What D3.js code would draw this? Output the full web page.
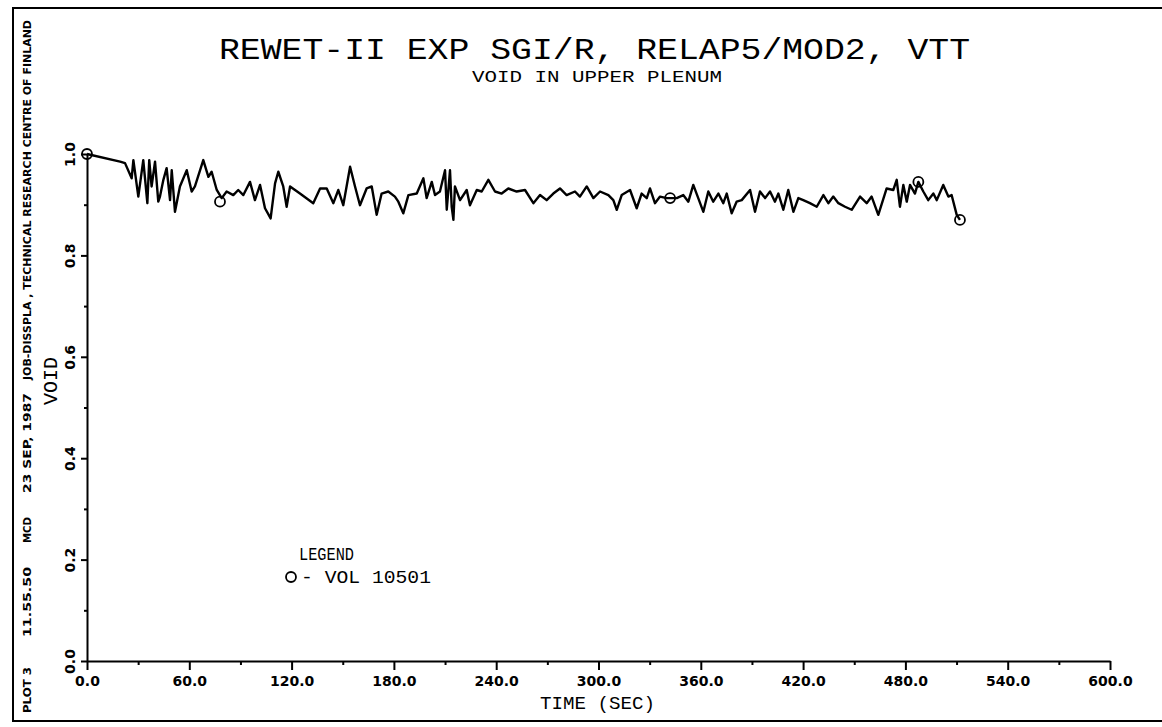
<!DOCTYPE html>
<html>
<head>
<meta charset="utf-8">
<script src="https://cdn.jsdelivr.net/npm/d3@7"></script>
<style>
  body { margin: 0; background: #fff; }
  svg { display: block; }
</style>
</head>
<body>
<div id="plot"></div>
<script>
// data (time in s, void fraction)
const timeSec = [
  0, 19.4, 22.3, 26.2, 27.2, 30.1, 33.0, 35.4, 36.5, 37.9, 39.9, 41.8, 42.8, 44.8, 46.7, 48.7, 49.7, 51.6,
  54.5, 58.5, 61.4, 63.3, 68.2, 71.2, 73.1, 76.1, 79.0, 81.9, 85.8, 88.7, 91.7, 95.6, 98.5, 101.5, 104.4,
  107.7, 110.3, 112.2, 115.1, 117.1, 119.1, 124.9, 132.7, 136.7, 140.6, 144.5, 147.4, 150.3, 154.3, 157.2,
  160.1, 164.0, 167.0, 169.9, 172.8, 176.7, 180.6, 182.6, 185.5, 188.5, 193.4, 197.3, 199.2, 202.2, 204.1,
  207.0, 210.0, 211.0, 212.9, 213.9, 214.9, 215.8, 218.8, 222.7, 224.6, 228.6, 231.5, 235.4, 239.3, 243.2,
  247.1, 252.0, 256.9, 261.8, 265.7, 269.6, 273.5, 277.4, 281.3, 286.2, 289.1, 293.1, 297.0, 300.9, 305.8,
  308.7, 310.7, 313.6, 318.5, 322.4, 325.3, 328.3, 330.2, 333.1, 336.1, 340.0, 345.9, 349.7, 352.7, 355.6,
  358.5, 361.5, 364.4, 367.3, 370.3, 373.2, 375.2, 378.1, 381.0, 384.0, 388.9, 391.8, 394.7, 397.7, 400.6,
  403.5, 405.5, 408.4, 411.3, 414.3, 417.2, 420.1, 424.0, 428.0, 431.9, 434.8, 437.7, 440.7, 444.6, 448.5,
  453.4, 457.3, 460.2, 464.1, 469.0, 472.9, 474.9, 476.8, 478.8, 480.8, 482.7, 485.6, 487.6, 490.5, 493.4,
  496.4, 498.4, 502.2, 505.2, 507.1, 510.1, 512.0
];
const voidFrac = [
  1.000, 0.985, 0.982, 0.952, 0.988, 0.916, 0.988, 0.903, 0.988, 0.936, 0.985, 0.906, 0.916, 0.949, 0.972, 0.909, 0.968, 0.886,
  0.936, 0.968, 0.926, 0.936, 0.988, 0.955, 0.965, 0.929, 0.913, 0.926, 0.919, 0.929, 0.919, 0.945, 0.909, 0.939, 0.893,
  0.873, 0.942, 0.965, 0.936, 0.896, 0.936, 0.922, 0.903, 0.932, 0.932, 0.903, 0.929, 0.899, 0.975, 0.936,
  0.899, 0.932, 0.936, 0.880, 0.922, 0.926, 0.916, 0.906, 0.883, 0.919, 0.922, 0.952, 0.913, 0.945, 0.919,
  0.926, 0.968, 0.890, 0.968, 0.896, 0.870, 0.936, 0.909, 0.929, 0.899, 0.929, 0.926, 0.949, 0.926, 0.922,
  0.932, 0.926, 0.929, 0.903, 0.919, 0.909, 0.922, 0.932, 0.919, 0.926, 0.916, 0.936, 0.913, 0.926, 0.919,
  0.909, 0.890, 0.919, 0.929, 0.893, 0.922, 0.913, 0.932, 0.903, 0.916, 0.913, 0.913, 0.919, 0.906, 0.939,
  0.913, 0.886, 0.926, 0.906, 0.922, 0.903, 0.922, 0.883, 0.906, 0.909, 0.929, 0.886, 0.926, 0.913, 0.926,
  0.906, 0.922, 0.890, 0.929, 0.886, 0.913, 0.909, 0.903, 0.896, 0.919, 0.903, 0.916, 0.903, 0.896, 0.890,
  0.916, 0.903, 0.916, 0.880, 0.932, 0.929, 0.949, 0.896, 0.939, 0.906, 0.939, 0.922, 0.945, 0.926, 0.909,
  0.922, 0.909, 0.939, 0.916, 0.919, 0.880, 0.870
];
const markerTime = [0, 78, 342, 487.6, 512];
const markerVoid = [1.0, 0.906, 0.913, 0.945, 0.870];

const xTickValues = [0, 60, 120, 180, 240, 300, 360, 420, 480, 540, 600];
const xMinorValues = [30, 90, 150, 210, 270, 330, 390, 450, 510, 570];
const yTickValues = [0, 0.2, 0.4, 0.6, 0.8, 1.0];
const yMinorValues = [0.1, 0.3, 0.5, 0.7, 0.9];

const titleText = 'REWET-II EXP SGI/R, RELAP5/MOD2, VTT';
const subtitleText = 'VOID IN UPPER PLENUM';
const xLabel = 'TIME (SEC)';
const yLabel = 'VOID';
const legendTitle = 'LEGEND';
const legendLabel = '- VOL 10501';
// side stamp pieces, read bottom to top
const stampTexts = ['PLOT 3', '11.55.50', 'MCD', '23 SEP, 1987', 'JOB-DISSPLA , TECHNICAL RESEARCH CENTRE OF FINLAND'];

const width = 1162;
const height = 727;
const plot = { left: 87, right: 1110, top: 154, bottom: 661 };
const thinFont = '"Liberation Mono", "DejaVu Sans Mono", monospace';
const boldFont = '"DejaVu Sans", sans-serif';

const svg = d3.select('#plot')
  .append('svg')
  .attr('width', width)
  .attr('height', height);

svg.append('rect').attr('width', width).attr('height', height).attr('fill', 'white');

// frame (left, top, bottom)
svg.append('path')
  .attr('d', `M${width},8H13V721H${width}`)
  .attr('fill', 'none')
  .attr('stroke', 'black')
  .attr('stroke-width', 2);

const x = d3.scaleLinear().domain([0, 600]).range([plot.left, plot.right]);
const y = d3.scaleLinear().domain([0, 1]).range([plot.bottom, plot.top]);

// x axis
const xAxis = svg.append('g')
  .attr('transform', `translate(0,${plot.bottom})`)
  .call(d3.axisBottom(x).tickValues(xTickValues).tickSize(9).tickSizeOuter(0).tickPadding(6)
    .tickFormat(d3.format('.1f')));
xAxis.select('.domain').attr('stroke-width', 2);
xAxis.selectAll('line').attr('stroke-width', 2);
xAxis.selectAll('text')
  .attr('font-family', boldFont)
  .attr('font-weight', 'bold')
  .attr('font-size', 14)
  .attr('fill', 'black');

svg.append('g')
  .attr('transform', `translate(0,${plot.bottom})`)
  .call(d3.axisBottom(x).tickValues(xMinorValues).tickSize(4).tickFormat(''))
  .call(g => g.select('.domain').remove())
  .selectAll('line').attr('stroke-width', 2);

// y axis, labels turned on their side
const yAxis = svg.append('g')
  .attr('transform', `translate(${plot.left},0)`)
  .call(d3.axisLeft(y).tickValues(yTickValues).tickSize(6).tickSizeOuter(0)
    .tickFormat(d3.format('.1f')));
yAxis.select('.domain').attr('stroke-width', 2);
yAxis.selectAll('line').attr('stroke-width', 2);
yAxis.selectAll('text')
  .attr('transform', 'rotate(-90)')
  .attr('x', 0)
  .attr('y', -17)
  .attr('dy', '0.35em')
  .attr('text-anchor', 'middle')
  .attr('font-family', boldFont)
  .attr('font-weight', 'bold')
  .attr('font-size', 14)
  .attr('fill', 'black');

svg.append('g')
  .attr('transform', `translate(${plot.left},0)`)
  .call(d3.axisLeft(y).tickValues(yMinorValues).tickSize(3).tickFormat(''))
  .call(g => g.select('.domain').remove())
  .selectAll('line').attr('stroke-width', 2);

// the void curve
const points = timeSec.map((t, i) => [t, voidFrac[i]]);
svg.append('path')
  .datum(points)
  .attr('d', d3.line().x(d => x(d[0])).y(d => y(d[1])))
  .attr('fill', 'none')
  .attr('stroke', 'black')
  .attr('stroke-width', 2.4)
  .attr('stroke-linejoin', 'round');

// symbols along the curve
svg.append('g')
  .selectAll('circle')
  .data(markerTime)
  .join('circle')
  .attr('cx', d => x(d))
  .attr('cy', (d, i) => y(markerVoid[i]))
  .attr('r', 5)
  .attr('fill', 'none')
  .attr('stroke', 'black')
  .attr('stroke-width', 1.8);

// titles
svg.append('text')
  .attr('x', 219).attr('y', 59)
  .attr('font-family', thinFont).attr('font-size', 30)
  .attr('textLength', 751).attr('lengthAdjust', 'spacingAndGlyphs')
  .text(titleText);

svg.append('text')
  .attr('x', 472).attr('y', 82)
  .attr('font-family', thinFont).attr('font-size', 16)
  .attr('textLength', 250).attr('lengthAdjust', 'spacingAndGlyphs')
  .text(subtitleText);

svg.append('text')
  .attr('x', 540).attr('y', 709)
  .attr('font-family', thinFont).attr('font-size', 19)
  .attr('textLength', 115).attr('lengthAdjust', 'spacingAndGlyphs')
  .text(xLabel);

svg.append('text')
  .attr('transform', 'translate(57,381) rotate(-90)')
  .attr('text-anchor', 'middle')
  .attr('font-family', thinFont).attr('font-size', 20)
  .text(yLabel);

// legend
svg.append('text')
  .attr('x', 299).attr('y', 560)
  .attr('font-family', thinFont).attr('font-size', 18)
  .attr('textLength', 55).attr('lengthAdjust', 'spacingAndGlyphs')
  .text(legendTitle);
svg.append('circle')
  .attr('cx', 291).attr('cy', 577).attr('r', 5)
  .attr('fill', 'none').attr('stroke', 'black').attr('stroke-width', 1.8);
svg.append('text')
  .attr('x', 301).attr('y', 583)
  .attr('font-family', thinFont).attr('font-size', 18)
  .attr('textLength', 130).attr('lengthAdjust', 'spacingAndGlyphs')
  .text(legendLabel);

// stamp on the left edge
const stampStart = [713, 637, 543, 493, 380];
const stampLength = [46, 70, 26, 100, 360];
stampTexts.forEach((s, i) => {
  svg.append('text')
    .attr('transform', `translate(31,${stampStart[i]}) rotate(-90)`)
    .attr('font-family', boldFont)
    .attr('font-weight', 'bold')
    .attr('font-size', 11)
    .attr('textLength', stampLength[i])
    .attr('lengthAdjust', 'spacingAndGlyphs')
    .text(s);
});
</script>
</body>
</html>
